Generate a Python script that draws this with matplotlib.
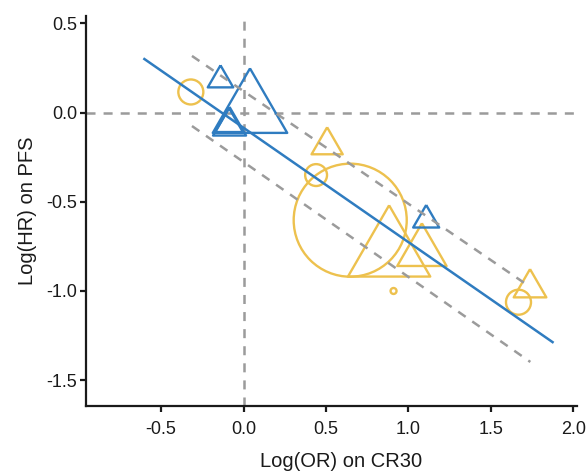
import numpy as np
import matplotlib
matplotlib.use("Agg")
import matplotlib.pyplot as plt
from matplotlib.markers import MarkerStyle

plt.rcParams['font.family'] = ['Liberation Sans', 'DejaVu Sans']
plt.rcParams['axes.unicode_minus'] = False
plt.rcParams['lines.scale_dashes'] = False

# ---- data ----
# yellow circles
yc_x = [-0.32, 0.44, 0.647, 0.91, 1.668]
yc_y = [0.116, -0.35, -0.603, -1.0, -1.063]
yc_w = [81, 62, 1656, 4.6, 81]
# yellow triangles
yt_x = [0.507, 0.883, 1.082, 1.738]
yt_y = [-0.183, -0.786, -0.78, -0.983]
yt_w = [168, 1170, 420, 184]
# blue triangles
bt_x = [-0.14, 0.039, -0.085, -0.088, 1.108]
bt_y = [0.183, 0.007, -0.075, -0.064, -0.602]
bt_w = [112, 958, 188, 132, 117]

# regression line
reg_intercept = -0.085
reg_slope = -0.641
reg_xrange = [-0.608, 1.881]
# band lines (x, upper y, lower y)
band_x = [-0.313, 1.74]
band_upper = [0.318, -0.978]
band_lower = [-0.075, -1.398]

xticks = [-0.5, 0.0, 0.5, 1.0, 1.5, 2.0]
yticks = [0.5, 0.0, -0.5, -1.0, -1.5]
xlabel = "Log(OR) on CR30"
ylabel = "Log(HR) on PFS"

BLUE = "#2F7CC0"
YELLOW = "#EDC14E"
GREY = "#9B9B9B"

tri = MarkerStyle([(0, 1), (-0.8660254, -0.5), (0.8660254, -0.5), (0, 1)])

def msize(w):
    return (2.0 * np.sqrt(np.asarray(w, dtype=float))) ** 2

fig = plt.figure(figsize=(5.87, 4.71), dpi=100)
ax = fig.add_axes([86/587, 1-406/471, (577-86)/587, (406-16)/471])

dash = (0, (6.5, 5.8))
LW = 1.8
ax.axhline(0, color=GREY, lw=LW, ls=dash, zorder=1)
ax.axvline(0, color=GREY, lw=LW, ls=dash, zorder=1)

ax.scatter(yc_x, yc_y, s=msize(yc_w), marker='o', facecolors='none',
           edgecolors=YELLOW, linewidths=1.7, zorder=2)
ax.scatter(yt_x, yt_y, s=msize(yt_w), marker=tri, facecolors='none',
           edgecolors=YELLOW, linewidths=1.7, zorder=2)
ax.scatter(bt_x, bt_y, s=msize(bt_w), marker=tri, facecolors='none',
           edgecolors=BLUE, linewidths=1.7, zorder=3)

ax.plot(band_x, band_upper, color=GREY, lw=LW, ls=dash, zorder=4)
ax.plot(band_x, band_lower, color=GREY, lw=LW, ls=dash, zorder=4)

rx = np.array(reg_xrange)
ax.plot(rx, reg_intercept + reg_slope * rx, color=BLUE, lw=1.8, zorder=5,
        solid_capstyle='butt')

ax.set_xlim(-0.956, 2.023)
ax.set_ylim(-1.645, 0.542)
ax.set_xticks(xticks)
ax.set_xticklabels([f"{v:.1f}" for v in xticks])
ax.set_yticks(yticks)
ax.set_yticklabels([f"{v:.1f}" for v in yticks])

for s in ['top', 'right']:
    ax.spines[s].set_visible(False)
for s in ['left', 'bottom']:
    ax.spines[s].set_linewidth(1.6)
    ax.spines[s].set_color('#1a1a1a')
ax.tick_params(axis='both', length=4.3, width=1.6, color='#1a1a1a',
               labelsize=13, labelcolor='#1a1a1a')
ax.tick_params(axis='x', pad=6.5)
ax.tick_params(axis='y', pad=2)

ax.set_xlabel(xlabel, fontsize=14.5, color='#1a1a1a')
ax.set_ylabel(ylabel, fontsize=14.5, color='#1a1a1a')
ax.xaxis.set_label_coords(0.519, -0.118)
ax.yaxis.set_label_coords(-0.1, 0.5)

fig.savefig("out.png", dpi=100)
